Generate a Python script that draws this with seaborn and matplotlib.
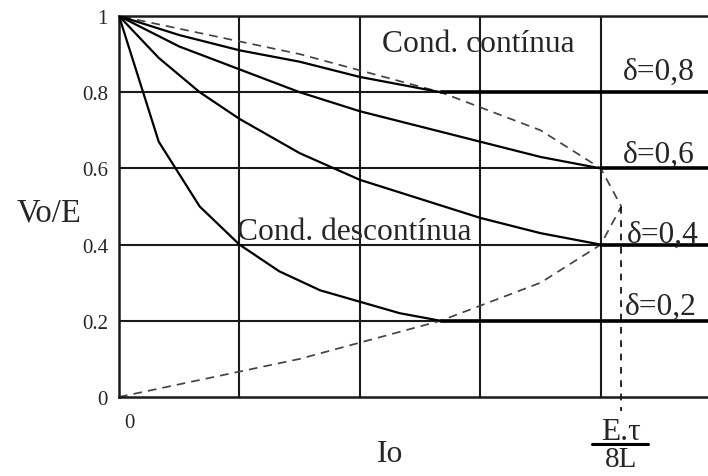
import pandas as pd
import matplotlib.pyplot as plt
import seaborn as sns

# Curvas em conducao descontinua (Io em divisoes da grade, Vo/E)
d02_io = [0, 0.33, 0.67, 1.0, 1.33, 1.67, 2.0, 2.33, 2.67]
d02_vo = [1.0, 0.67, 0.50, 0.40, 0.33, 0.28, 0.25, 0.22, 0.20]
d04_io = [0, 0.33, 0.67, 1.0, 1.5, 2.0, 2.5, 3.0, 3.5, 4.0]
d04_vo = [1.0, 0.89, 0.80, 0.73, 0.64, 0.57, 0.52, 0.47, 0.43, 0.40]
d06_io = [0, 0.5, 1.0, 1.5, 2.0, 2.5, 3.0, 3.5, 4.0]
d06_vo = [1.0, 0.92, 0.86, 0.80, 0.75, 0.71, 0.67, 0.63, 0.60]
d08_io = [0, 0.5, 1.0, 1.5, 2.0, 2.67]
d08_vo = [1.0, 0.95, 0.91, 0.88, 0.84, 0.80]

# Fronteira entre conducao continua e descontinua
lim_io = [0, 1.5, 2.67, 3.5, 4.0, 4.17, 4.0, 3.5, 2.67, 1.5, 0]
lim_vo = [0, 0.1, 0.2, 0.3, 0.4, 0.5, 0.6, 0.7, 0.8, 0.9, 1.0]

deltas = [0.2, 0.4, 0.6, 0.8]
delta_labels = ['δ=0,2', 'δ=0,4', 'δ=0,6', 'δ=0,8']
io_max = 4.17
x_max = 4.89

y_ticks = [0, 0.2, 0.4, 0.6, 0.8, 1.0]
y_ticklabels = ['0', '0.2', '0.4', '0.6', '0.8', '1']
x_grid = [1, 2, 3, 4]

sns.set_style('white')
plt.rcParams['font.family'] = ['Liberation Serif', 'DejaVu Serif']

dcm = pd.concat([
    pd.DataFrame({'io': d02_io, 'vo': d02_vo, 'curva': 'd02'}),
    pd.DataFrame({'io': d04_io, 'vo': d04_vo, 'curva': 'd04'}),
    pd.DataFrame({'io': d06_io, 'vo': d06_vo, 'curva': 'd06'}),
    pd.DataFrame({'io': d08_io, 'vo': d08_vo, 'curva': 'd08'}),
])
limite = pd.DataFrame({'io': lim_io, 'vo': lim_vo})

fig = plt.figure(figsize=(7.08, 4.77), dpi=100)
ax = fig.add_axes([119 / 708, 1 - 398 / 477, 589 / 708, 381 / 477])

# grade
for xg in x_grid:
    ax.axvline(xg, color='#1a1a1a', lw=1.5, zorder=1)
for yg in y_ticks[1:-1]:
    ax.axhline(yg, color='#1a1a1a', lw=1.5, zorder=1)

sns.lineplot(data=dcm, x='io', y='vo', units='curva', estimator=None, sort=False,
             color='black', lw=1.6, ax=ax, zorder=3)
sns.lineplot(data=limite, x='io', y='vo', estimator=None, sort=False,
             color='#444444', lw=1.25, ax=ax, zorder=2,
             linestyle=(0, (5, 3.5)))

# conducao continua: Vo/E = delta
for d, io_b in zip(deltas, [2.67, 4.0, 4.0, 2.67]):
    sns.lineplot(x=[io_b, x_max], y=[d, d], color='black', lw=2.6, ax=ax, zorder=3)

# linha vertical em E.tau/8L
ax.plot([io_max, io_max], [0.5, -0.037], color='black', lw=1.2,
        linestyle=(0, (4, 4)), clip_on=False, zorder=2)

ax.set_xlim(0, x_max)
ax.set_ylim(0, 1)
ax.set_xticks([])
ax.set_yticks(y_ticks)
ax.set_yticklabels(y_ticklabels, fontsize=15)
ax.tick_params(axis='y', length=0, pad=8)
ax.set_xlabel('')
ax.set_ylabel('')
for s in ['left', 'top', 'bottom']:
    ax.spines[s].set_color('#1a1a1a')
    ax.spines[s].set_linewidth(1.8)
ax.spines['right'].set_visible(False)

# textos
ax.text(0.083, -0.068, '0', fontsize=15, ha='center', va='center')
ax.text(-0.846, 0.462, 'Vo/E', fontsize=23.5, ha='left', va='baseline')
ax.text(2.18, 0.908, 'Cond. contínua', fontsize=22.7, ha='left', va='baseline')
ax.text(0.98, 0.415, 'Cond. descontínua', fontsize=22.7, ha='left', va='baseline')
label_pos = [(4.2, 0.218), (4.22, 0.407), (4.18, 0.617), (4.18, 0.835)]
for (lx, ly), lab in zip(label_pos, delta_labels):
    ax.text(lx, ly, lab, fontsize=22.7, ha='left', va='baseline')

ax.text(2.25, -0.168, 'Io', fontsize=22.7, ha='center', va='baseline')
ax.text(io_max, -0.11, 'E.τ', fontsize=22.7, ha='center', va='baseline')
ax.plot([3.925, 4.39], [-0.123, -0.123], color='black', lw=2.2, clip_on=False)
ax.text(io_max, -0.182, '8L', fontsize=21, ha='center', va='baseline')

fig.savefig('out.png', dpi=100)
